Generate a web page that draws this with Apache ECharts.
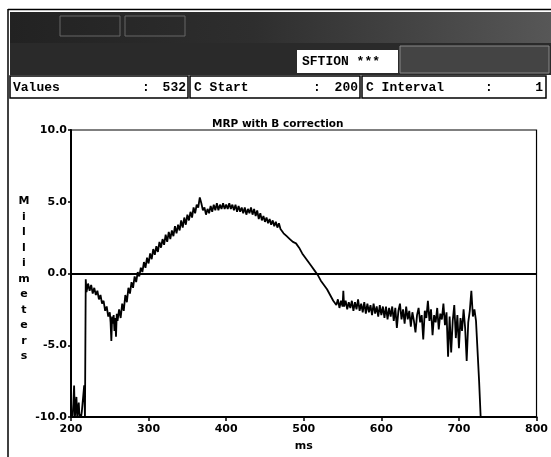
<!DOCTYPE html>
<html>
<head>
<meta charset="utf-8">
<script src="https://cdn.jsdelivr.net/npm/echarts@6/dist/echarts.min.js"></script>
<style>
  html, body { margin: 0; padding: 0; background: #fff; }
  #chart { width: 551px; height: 457px; }
</style>
</head>
<body>
<div id="chart"></div>
<script>
// time in ms and MRP values in millimeters
var msValues = [
  200, 201, 202, 203, 204, 205, 206, 207, 208, 209, 210, 211, 212, 213, 214, 215, 216, 217, 218,
  219, 220, 222, 224, 226, 228, 230, 232, 234, 236, 238, 240, 242, 244, 246, 248, 250,
  251, 252, 253, 254, 255, 256, 257, 258, 259, 260, 262, 264, 266, 268, 270, 272, 274, 276, 278, 280,
  282, 284, 286, 288, 290, 292, 294, 296, 298, 300, 302, 304, 306, 308, 310, 312, 314, 316, 318, 320,
  322, 324, 326, 328, 330, 332, 334, 336, 338, 340, 342, 344, 346, 348, 350, 352, 354, 356, 358, 360,
  362, 364, 366, 368, 370, 372, 374, 376, 378, 380, 382, 384, 386, 388, 390, 392, 394, 396, 398, 400,
  402, 404, 406, 408, 410, 412, 414, 416, 418, 420, 422, 424, 426, 428, 430, 432, 434, 436, 438, 440,
  442, 444, 446, 448, 450, 452, 454, 456, 458, 460, 462, 464, 466, 468, 470, 472, 474, 476, 478, 480,
  482, 484, 486, 488, 490, 492, 494, 496, 498, 500, 502, 504, 506, 508, 510, 512, 514, 516, 518, 520,
  522, 524, 526, 528, 530, 532, 534, 536, 538, 540, 542, 544, 546, 548, 550, 551, 552, 554, 556, 558,
  560, 562, 564, 566, 568, 570, 572, 574, 576, 578, 580, 582, 584, 586, 588, 590, 592, 594, 596, 598,
  600, 602, 604, 606, 608, 610, 612, 614, 616, 618, 620, 622, 624, 626, 628, 630, 632, 634, 636, 638,
  640, 642, 644, 646, 648, 650, 652, 654, 656, 658, 660, 662, 664, 666, 668, 670, 672, 674, 676, 678,
  680, 682, 684, 686, 688, 690, 692, 694, 696, 698, 700, 702, 704, 706, 708, 710, 712, 714, 716, 718,
  720, 722, 724, 726, 728, 731
];
var mmValues = [
  -10, -9.7, -10, -9.1, -7.8, -10, -9.4, -8.6, -10, -9.5, -9.0, -10, -9.8, -10, -9.6, -9.0, -8.4, -7.8, -10,
  -0.4, -1.3, -0.7, -1.2, -0.8, -1.4, -1.0, -1.5, -1.2, -1.8, -1.5, -2.1, -1.9, -2.6, -2.3, -3.0, -2.7,
  -3.4, -4.7, -3.0, -3.5, -2.9, -4.0, -3.1, -4.4, -2.8, -3.3, -2.5, -3.1, -2.1, -2.6, -1.5, -2.0, -1.0, -1.4, -0.6, -1.0,
  -0.2, -0.6, 0.1, -0.2, 0.4, 0.1, 0.8, 0.4, 1.1, 0.7, 1.4, 1.0, 1.7, 1.3, 1.9, 1.5, 2.2, 1.8, 2.4, 2.0,
  2.7, 2.2, 2.9, 2.4, 3.0, 2.6, 3.3, 2.8, 3.4, 3.0, 3.7, 3.2, 3.9, 3.4, 4.1, 3.7, 4.3, 3.9, 4.6, 4.2,
  4.8, 4.6, 5.3, 4.9, 4.4, 4.6, 4.1, 4.5, 4.2, 4.7, 4.3, 4.8, 4.4, 4.9, 4.4, 4.8, 4.5, 4.9, 4.5, 4.8,
  4.5, 4.9, 4.5, 4.8, 4.4, 4.8, 4.3, 4.7, 4.3, 4.6, 4.2, 4.6, 4.1, 4.5, 4.2, 4.6, 4.1, 4.5, 4.0, 4.4,
  3.8, 4.2, 3.7, 4.0, 3.6, 3.9, 3.5, 3.8, 3.4, 3.7, 3.3, 3.6, 3.2, 3.5, 3.1, 3.2, 2.8, 2.9, 2.6, 2.7,
  2.4, 2.5, 2.2, 2.3, 2.1, 2.1, 1.8, 1.7, 1.4, 1.4, 1.1, 1.1, 0.8, 0.8, 0.5, 0.5, 0.2, 0.2, -0.1, -0.2,
  -0.5, -0.5, -0.8, -0.9, -1.1, -1.2, -1.5, -1.6, -1.9, -1.9, -2.2, -1.8, -2.4, -1.9, -2.3, -1.2, -2.3, -1.9, -2.5, -2.0,
  -2.4, -1.9, -2.6, -2.0, -2.5, -1.8, -2.6, -2.1, -2.7, -2.0, -2.8, -2.1, -2.7, -2.2, -2.9, -2.1, -2.8, -2.3, -3.0, -2.2,
  -2.9, -2.3, -3.1, -2.3, -3.2, -2.4, -3.0, -2.3, -3.3, -2.4, -3.8, -2.6, -2.1, -3.2, -2.5, -3.5, -2.3, -3.2, -2.6, -3.7,
  -2.7, -3.3, -4.1, -2.9, -2.4, -3.4, -2.9, -4.6, -2.6, -3.1, -1.9, -3.3, -2.5, -4.3, -2.9, -3.4, -2.4, -3.9, -2.8, -3.2,
  -2.1, -3.6, -2.7, -5.8, -3.0, -5.5, -3.3, -2.2, -4.5, -2.9, -5.2, -3.1, -4.0, -2.5, -3.8, -6.1, -3.4, -2.6, -1.2, -3.0,
  -2.5, -3.3, -3.4, -7.5, -10, -10
];
var yTicks = [-10, -5, 0, 5, 10];
var xTicks = [200, 300, 400, 500, 600, 700, 800];
var yLetters = ['M', 'i', 'l', 'l', 'i', 'm', 'e', 't', 'e', 'r', 's'];

var trace = msValues.map(function (t, i) { return [t, mmValues[i]]; });

var chart = echarts.init(document.getElementById('chart'), null, { renderer: 'canvas' });
var boldSans = 'DejaVu Sans';
var mono = 'Liberation Mono';

chart.setOption({
    animation: false,
    backgroundColor: '#fff',
    title: {
        text: 'MRP with B correction',
        left: 207,
        top: 114,
        textStyle: { fontFamily: boldSans, fontWeight: 'bold', fontSize: 10.5, color: '#000' }
    },
    grid: {
        left: 71, right: 14, top: 130, bottom: 39,
        show: true, borderColor: '#000', borderWidth: 1.2
    },
    xAxis: {
        type: 'value',
        min: xTicks[0], max: xTicks[xTicks.length - 1], interval: 100,
        name: 'ms',
        nameLocation: 'middle',
        nameGap: 24,
        nameTextStyle: { fontFamily: boldSans, fontWeight: 'bold', fontSize: 11, color: '#000' },
        axisLine: { onZero: false, lineStyle: { color: '#000', width: 2 } },
        axisTick: { length: 4, lineStyle: { color: '#000', width: 1.5 } },
        axisLabel: { margin: 7, fontFamily: boldSans, fontWeight: 'bold', fontSize: 11, color: '#000' },
        splitLine: { show: false }
    },
    yAxis: {
        type: 'value',
        min: yTicks[0], max: yTicks[yTicks.length - 1], interval: 5,
        axisLine: { onZero: false, lineStyle: { color: '#000', width: 2 } },
        axisTick: { length: 3, lineStyle: { color: '#000', width: 1.5 } },
        axisLabel: {
            margin: 4, fontFamily: boldSans, fontWeight: 'bold', fontSize: 11, color: '#000',
            formatter: function (v) { return v.toFixed(1); }
        },
        splitLine: { show: false }
    },
    series: [{
        type: 'line',
        data: trace,
        symbol: 'none',
        lineStyle: { color: '#000', width: 1.8 },
        markLine: {
            silent: true,
            symbol: 'none',
            label: { show: false },
            lineStyle: { color: '#000', width: 2, type: 'solid' },
            data: [{ yAxis: 0 }]
        }
    }],
    graphic: [
        // outer frame
        { type: 'line', shape: { x1: 8, y1: 9.5, x2: 551, y2: 9.5 }, style: { stroke: '#000', lineWidth: 1.5 } },
        { type: 'line', shape: { x1: 8, y1: 9, x2: 8, y2: 457 }, style: { stroke: '#000', lineWidth: 1.5 } },
        // dithered header band
        {
            type: 'rect', shape: { x: 10, y: 12, width: 541, height: 31 },
            style: { fill: new echarts.graphic.LinearGradient(0, 0, 1, 0, [
                { offset: 0, color: '#222' }, { offset: 0.45, color: '#2e2e2e' }, { offset: 1, color: '#575757' }
            ]) }
        },
        { type: 'rect', shape: { x: 10, y: 43, width: 541, height: 32 }, style: { fill: '#2a2a2a' } },
        { type: 'rect', shape: { x: 400, y: 46, width: 149, height: 27 }, style: { fill: '#444', stroke: '#888', lineWidth: 1 } },
        { type: 'rect', shape: { x: 60, y: 16, width: 60, height: 20 }, style: { fill: 'none', stroke: '#666', lineWidth: 1 } },
        { type: 'rect', shape: { x: 125, y: 16, width: 60, height: 20 }, style: { fill: 'none', stroke: '#666', lineWidth: 1 } },
        { type: 'rect', shape: { x: 297, y: 50, width: 101, height: 23 }, style: { fill: '#fff' } },
        { type: 'text', x: 302, y: 62, style: { text: 'SFTION ***', fontFamily: mono, fontWeight: 'bold', fontSize: 13, fill: '#000', textVerticalAlign: 'middle' } },
        // value boxes
        { type: 'rect', shape: { x: 10, y: 76, width: 178, height: 22 }, style: { fill: '#fff', stroke: '#000', lineWidth: 1.5 } },
        { type: 'rect', shape: { x: 190, y: 76, width: 170, height: 22 }, style: { fill: '#fff', stroke: '#000', lineWidth: 1.5 } },
        { type: 'rect', shape: { x: 362, y: 76, width: 184, height: 22 }, style: { fill: '#fff', stroke: '#000', lineWidth: 1.5 } },
        { type: 'text', x: 13, y: 88, style: { text: 'Values', fontFamily: mono, fontWeight: 'bold', fontSize: 13, fill: '#000', textVerticalAlign: 'middle' } },
        { type: 'text', x: 146, y: 88, style: { text: ':', fontFamily: mono, fontWeight: 'bold', fontSize: 13, fill: '#000', textAlign: 'center', textVerticalAlign: 'middle' } },
        { type: 'text', x: 186, y: 88, style: { text: '532', fontFamily: mono, fontWeight: 'bold', fontSize: 13, fill: '#000', textAlign: 'right', textVerticalAlign: 'middle' } },
        { type: 'text', x: 194, y: 88, style: { text: 'C Start', fontFamily: mono, fontWeight: 'bold', fontSize: 13, fill: '#000', textVerticalAlign: 'middle' } },
        { type: 'text', x: 317, y: 88, style: { text: ':', fontFamily: mono, fontWeight: 'bold', fontSize: 13, fill: '#000', textAlign: 'center', textVerticalAlign: 'middle' } },
        { type: 'text', x: 358, y: 88, style: { text: '200', fontFamily: mono, fontWeight: 'bold', fontSize: 13, fill: '#000', textAlign: 'right', textVerticalAlign: 'middle' } },
        { type: 'text', x: 366, y: 88, style: { text: 'C Interval', fontFamily: mono, fontWeight: 'bold', fontSize: 13, fill: '#000', textVerticalAlign: 'middle' } },
        { type: 'text', x: 489, y: 88, style: { text: ':', fontFamily: mono, fontWeight: 'bold', fontSize: 13, fill: '#000', textAlign: 'center', textVerticalAlign: 'middle' } },
        { type: 'text', x: 543, y: 88, style: { text: '1', fontFamily: mono, fontWeight: 'bold', fontSize: 13, fill: '#000', textAlign: 'right', textVerticalAlign: 'middle' } },
        // stacked y axis name
        {
            type: 'text', x: 24, y: 279,
            style: {
                text: yLetters.join('\n'), fontFamily: boldSans, fontWeight: 'bold', fontSize: 11,
                lineHeight: 15.5, fill: '#000', textAlign: 'center', textVerticalAlign: 'middle'
            }
        }
    ]
});
</script>
</body>
</html>
